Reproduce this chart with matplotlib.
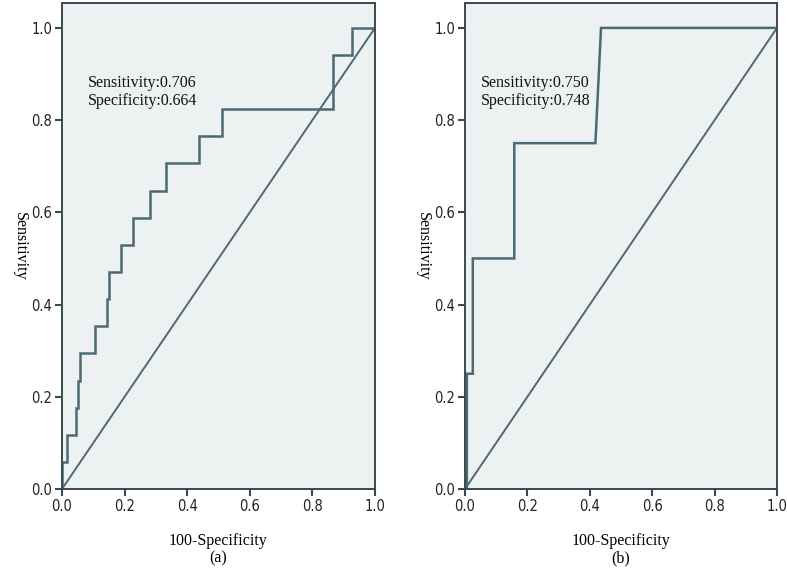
import matplotlib
matplotlib.use("Agg")
import matplotlib.pyplot as plt

# Panel (a) ROC step curve
fpr_a = [0.0, 0.0, 0.017, 0.017, 0.046, 0.046, 0.051, 0.051, 0.058, 0.058, 0.105, 0.105,
         0.145, 0.145, 0.151, 0.151, 0.19, 0.19, 0.227, 0.227, 0.281, 0.281, 0.332, 0.332,
         0.437, 0.437, 0.51, 0.51, 0.865, 0.865, 0.926, 0.926, 1.0]
tpr_a = [0.0, 0.059, 0.059, 0.118, 0.118, 0.176, 0.176, 0.235, 0.235, 0.294, 0.294, 0.353,
         0.353, 0.412, 0.412, 0.471, 0.471, 0.529, 0.529, 0.588, 0.588, 0.647, 0.647, 0.706,
         0.706, 0.765, 0.765, 0.824, 0.824, 0.941, 0.941, 1.0, 1.0]

# Panel (b) ROC step curve
fpr_b = [0.0, 0.006, 0.006, 0.025, 0.025, 0.158, 0.158, 0.418, 0.436, 1.0]
tpr_b = [0.0, 0.0, 0.25, 0.25, 0.5, 0.5, 0.75, 0.75, 1.0, 1.0]

ref_line = [0.0, 1.0]
ticks = [0.0, 0.2, 0.4, 0.6, 0.8, 1.0]
tick_labels = ["0.0", "0.2", "0.4", "0.6", "0.8", "1.0"]
annot_a = ["Sensitivity:0.706", "Specificity:0.664"]
annot_b = ["Sensitivity:0.750", "Specificity:0.748"]
panel_labels = ["(a)", "(b)"]

W, H = 787, 571
fig = plt.figure(figsize=(W / 100, H / 100), dpi=100)
fig.patch.set_facecolor("white")

line_c = "#4c6a73"
frame_c = "#3a4a50"
bg_c = "#edf1f2"
serif = ["Liberation Serif", "DejaVu Serif"]
narrow = ["DejaVu Sans"]

def px_axes(x0, x1, y0, y1):
    return fig.add_axes([x0 / W, 1 - y1 / H, (x1 - x0) / W, (y1 - y0) / H])

panels = [
    (px_axes(62, 375, 3, 489), fpr_a, tpr_a, annot_a, panel_labels[0], 0.083),
    (px_axes(465, 777, 3, 489), fpr_b, tpr_b, annot_b, panel_labels[1], 0.051),
]

for ax, fx, ty, annot, plabel, tx in panels:
    ax.set_facecolor(bg_c)
    ax.plot(ref_line, ref_line, color=line_c, lw=1.4, solid_capstyle="butt")
    ax.plot(fx, ty, color=line_c, lw=1.8, solid_joinstyle="miter")
    ax.set_xlim(0, 1.0)
    ax.set_ylim(0, 1.054)
    ax.set_xticks(ticks)
    ax.set_yticks(ticks)
    ax.set_xticklabels(tick_labels, fontfamily=narrow, fontstretch="condensed",
                       fontsize=10.5, color="#222222")
    ax.set_yticklabels(tick_labels, fontfamily=narrow, fontstretch="condensed",
                       fontsize=10.5, color="#222222")
    ax.tick_params(direction="out", length=5, width=1.5, color=frame_c, pad=2)
    for s in ax.spines.values():
        s.set_color(frame_c)
        s.set_linewidth(1.4)
    ax.set_xlabel("100-Specificity", fontfamily=serif, fontsize=11.5, labelpad=14)
    ax.set_ylabel("Sensitivity", fontfamily=serif, fontsize=11.5, rotation=270,
                  va="center")
    ax.yaxis.set_label_coords(-0.135, 0.5)
    ax.text(tx, 0.835, annot[0], transform=ax.transAxes, fontfamily=serif,
            fontsize=11.5, va="center", ha="left", color="#111111")
    ax.text(tx, 0.798, annot[1], transform=ax.transAxes, fontfamily=serif,
            fontsize=11.5, va="center", ha="left", color="#111111")
    ax.text(0.5, -0.142, plabel, transform=ax.transAxes, fontfamily=serif,
            fontsize=11.5, va="center", ha="center")

fig.savefig("out.png", dpi=100)
